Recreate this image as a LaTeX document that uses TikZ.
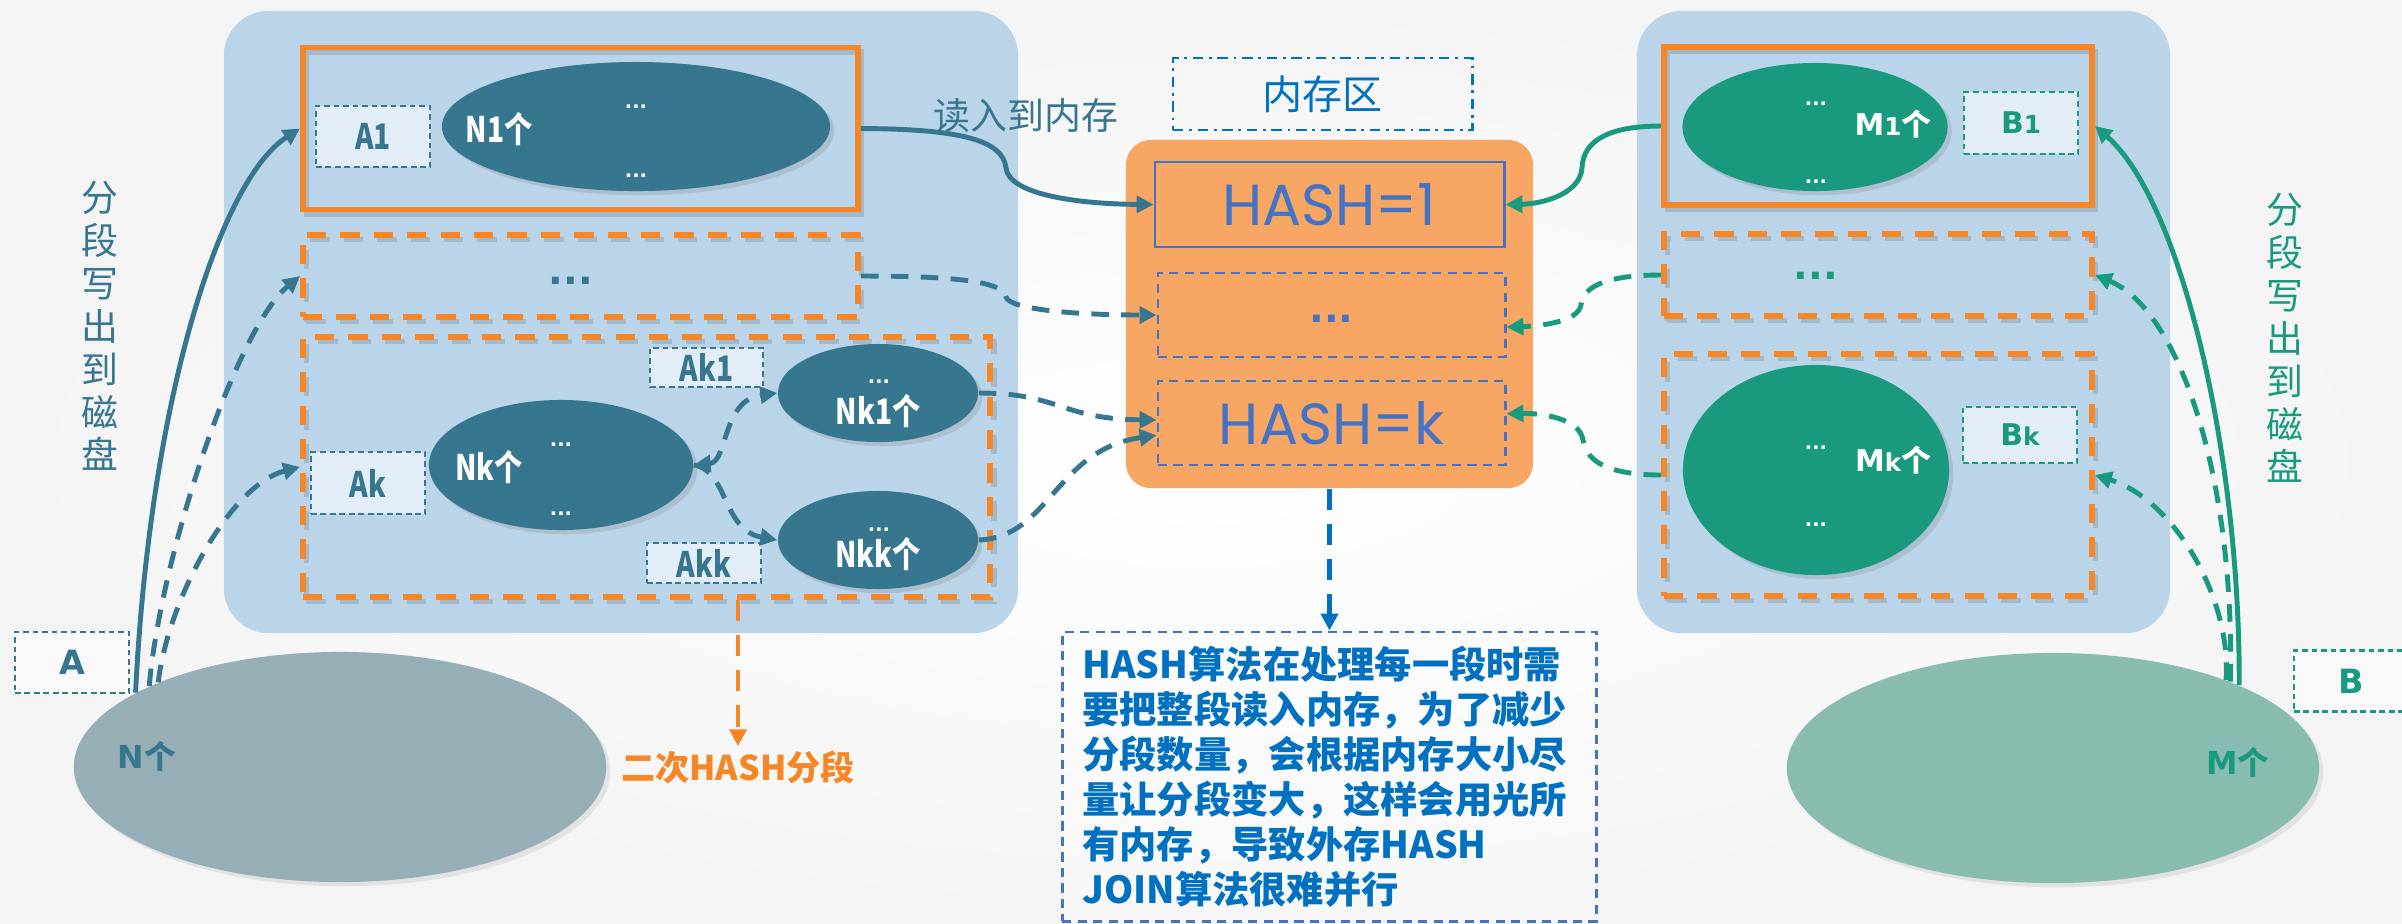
\documentclass[tikz,border=0pt]{standalone}
\usepackage{fontspec}
\setmainfont{Noto Sans CJK SC}
\newfontfamily\hashfont{Poppins}
\newfontfamily\dvfont{DejaVu Sans}
\newfontfamily\condfont[FakeStretch=0.8]{Noto Sans CJK SC}
\usetikzlibrary{arrows.meta,shapes.geometric,shadows}
\definecolor{bg}{RGB}{244,244,244}
\definecolor{panelblue}{RGB}{186,213,234}
\definecolor{tealD}{RGB}{55,118,143}
\definecolor{greenD}{RGB}{25,154,127}
\definecolor{grayN}{RGB}{150,174,182}
\definecolor{greenM}{RGB}{137,188,176}
\definecolor{orangeL}{RGB}{246,134,38}
\definecolor{orangeF}{RGB}{247,167,99}
\definecolor{hashblue}{RGB}{68,114,196}
\definecolor{memblue}{RGB}{0,112,192}
\definecolor{lblfill}{RGB}{226,237,247}
\definecolor{whitebox}{RGB}{249,249,249}
\tikzset{
  panel/.style={fill=panelblue, rounded corners=0.45cm, inner sep=0pt},
  oshadow/.style={preaction={draw=black!60, draw opacity=0.25, transform canvas={xshift=1pt, yshift=-1.3pt}}},
  obox/.style={draw=orangeL, line width=1.6pt, inner sep=0pt, oshadow},
  odash/.style={obox, dash pattern=on 5.5pt off 4pt},
  lbl/.style={line width=0.6pt, dash pattern=on 1.6pt off 1.1pt, inner sep=0pt},
  lblT/.style={lbl, draw=tealD, fill=lblfill, text=tealD, font=\condfont\bfseries\fontsize{10}{10}\selectfont},
  lblG/.style={lbl, draw=greenD, fill=lblfill, text=greenD, font=\dvfont\bfseries\fontsize{8.5}{9}\selectfont},
  ellT/.style={ellipse, fill=tealD, inner sep=0pt, drop shadow={opacity=0.25, shadow xshift=1.2pt, shadow yshift=-1.2pt}},
  ellG/.style={ellipse, fill=greenD, inner sep=0pt, drop shadow={opacity=0.25, shadow xshift=1.2pt, shadow yshift=-1.2pt}},
  txtW/.style={text=white, inner sep=0pt, font=\condfont\bfseries\fontsize{10}{10}\selectfont},
  txtWG/.style={text=white, inner sep=0pt, font=\bfseries\fontsize{8.5}{9}\selectfont},
  dotsW/.style={text=white, inner sep=0pt, font=\dvfont\bfseries\fontsize{5.5}{6}\selectfont},
  bigdots/.style={inner sep=0pt, font=\dvfont\bfseries\fontsize{11}{11}\selectfont},
  conT/.style={draw=tealD, line width=1.4pt, ->},
  conTd/.style={conT, dash pattern=on 5pt off 3.5pt},
  conG/.style={draw=greenD, line width=1.4pt, ->},
  conGd/.style={conG, dash pattern=on 5pt off 3.5pt},
  hbox/.style={draw=hashblue, line width=0.8pt, inner sep=0pt, text=hashblue, font=\hashfont\fontsize{16.5}{17}\selectfont},
  hdash/.style={hbox, dash pattern=on 2.6pt off 1.8pt},
  vtext/.style={align=center, inner sep=0pt, font=\fontsize{10.5}{12.2}\selectfont}
}
\begin{document}
\begin{tikzpicture}[x=0.01cm,y=-0.01cm,>={Triangle[length=4.8pt,width=4.8pt]}]
\useasboundingbox (0,0) rectangle (2402,923);
\shade[inner color=white, outer color=bg] (0,0) rectangle (2402,923);

% ---------- panels ----------
\node[panel, minimum width=7.94cm, minimum height=6.22cm] (PL) at (621,322) {};
\node[panel, minimum width=5.33cm, minimum height=6.22cm] (PR) at (1903.5,322) {};

% ---------- left side ----------
\node[obox, minimum width=5.55cm, minimum height=1.62cm] (L1) at (580.5,128.5) {};
\node[odash, minimum width=5.55cm, minimum height=0.82cm] (L2) at (580.5,276) {};
\node[odash, minimum width=6.87cm, minimum height=2.60cm] (L3) at (646.5,467) {};

\node[lblT, minimum width=1.14cm, minimum height=0.61cm] (A1) at (373,136.5) {A1};
\node[ellT, minimum width=3.88cm, minimum height=1.29cm] (N1) at (636,126.5) {};
\node[txtW] (N1t) at (499,129) {N1个};
\node[dotsW, anchor=base] (N1d1) at (636,108) {...};
\node[dotsW, anchor=base] (N1d2) at (636,177) {...};

\node[bigdots, text=tealD, anchor=base] (L2d) at (571,284) {...};

\node[lblT, minimum width=1.14cm, minimum height=0.62cm] (Ak) at (368,483) {Ak};
\node[ellT, minimum width=2.64cm, minimum height=1.30cm] (Nk) at (561,465) {};
\node[txtW] (Nkt) at (489,467) {Nk个};
\node[dotsW, anchor=base] (Nkd1) at (561,446) {...};
\node[dotsW, anchor=base] (Nkd2) at (561,515) {...};

\node[lblT, minimum width=1.13cm, minimum height=0.39cm] (Ak1) at (706.5,367.5) {Ak1};
\node[ellT, minimum width=2.00cm, minimum height=0.98cm] (Nk1) at (878,393) {};
\node[txtW] (Nk1t) at (878,411) {Nk1个};
\node[dotsW, anchor=base] (Nk1d) at (879,383) {...};

\node[lblT, minimum width=1.14cm, minimum height=0.40cm] (Akk) at (704,563) {Akk};
\node[ellT, minimum width=2.00cm, minimum height=0.98cm] (Nkk) at (878,540) {};
\node[txtW] (Nkkt) at (878,554) {Nkk个};
\node[dotsW, anchor=base] (Nkkd) at (879,531) {...};

\node[lbl, draw=tealD, fill=whitebox, text=tealD, minimum width=1.14cm, minimum height=0.61cm, font=\dvfont\bfseries\fontsize{9.5}{10}\selectfont] (A) at (72,662.5) {A};
\node[ellipse, fill=grayN, inner sep=0pt, minimum width=5.32cm, minimum height=2.30cm, drop shadow={opacity=0.15, shadow xshift=1.2pt, shadow yshift=-1.2pt}] (N) at (340,767) {};
\node[text=tealD, inner sep=0pt, font=\bfseries\fontsize{9}{9}\selectfont] (Nt) at (147,756) {{\dvfont N}个};

\node[vtext, text=tealD] (VL) at (100,326) {分\\段\\写\\出\\到\\磁\\盘};

\node[text=orangeL, inner sep=1pt, font=\bfseries\fontsize{9.7}{10}\selectfont] (Q) at (738,767) {二次HASH分段};

% ---------- memory ----------
\node[draw=memblue, line width=0.8pt, dash pattern=on 3pt off 1.6pt on 0.8pt off 1.6pt, text=memblue, minimum width=2.99cm, minimum height=0.72cm, inner sep=0pt, font=\fontsize{11.4}{12}\selectfont] (ML) at (1322.5,94) {内存区};
\node[fill=orangeF, rounded corners=0.25cm, minimum width=4.07cm, minimum height=3.48cm, inner sep=0pt] (MB) at (1329.5,314) {};
\node[hbox, minimum width=3.49cm, minimum height=0.85cm] (H1) at (1329.5,204.5) {HASH=1};
\node[hdash, minimum width=3.47cm, minimum height=0.84cm] (Hd) at (1331.5,315) {};
\node[bigdots, text=hashblue, anchor=base] (Hdd) at (1331.5,322) {...};
\node[hdash, minimum width=3.47cm, minimum height=0.84cm] (Hk) at (1331.5,423) {HASH=k};
\node[text=tealD, inner sep=0pt, font=\fontsize{10.5}{11}\selectfont] (RD) at (1026,116) {读入到内存};

\node[draw=hashblue, line width=0.8pt, dash pattern=on 2.6pt off 1.8pt, fill=white, fill opacity=0.35, text opacity=1, text=memblue, minimum width=5.34cm, minimum height=2.89cm, inner xsep=0.2cm, text width=4.94cm, align=left, font=\bfseries\fontsize{10.6}{12.8}\selectfont] (TB) at (1329.5,776.5)
{HASH算法在处理每一段时需\\要把整段读入内存，为了减少\\分段数量，会根据内存大小尽\\量让分段变大，这样会用光所\\有内存，导致外存HASH\\JOIN算法很难并行};

% ---------- right side ----------
\node[obox, minimum width=4.28cm, minimum height=1.58cm] (R1) at (1878,126) {};
\node[odash, minimum width=4.28cm, minimum height=0.82cm] (R2) at (1878,275) {};
\node[odash, minimum width=4.28cm, minimum height=2.42cm] (R3) at (1878,475) {};

\node[ellG, minimum width=2.65cm, minimum height=1.28cm] (M1) at (1815,127) {};
\node[txtWG] (M1t) at (1893,124) {{\dvfont M{\fontsize{7}{7}\selectfont 1}}个};
\node[dotsW, anchor=base] (M1d1) at (1816,105) {...};
\node[dotsW, anchor=base] (M1d2) at (1816,183) {...};
\node[lblG, minimum width=1.14cm, minimum height=0.62cm] (B1) at (2021,123) {B{\fontsize{7}{7}\selectfont 1}};

\node[bigdots, text=greenD, anchor=base] (R2d) at (1816,279) {...};

\node[ellG, minimum width=2.66cm, minimum height=2.10cm] (Mk) at (1816,470) {};
\node[txtWG] (Mkt) at (1893,460) {{\dvfont M{\fontsize{7}{7}\selectfont k}}个};
\node[dotsW, anchor=base] (Mkd1) at (1816,449) {...};
\node[dotsW, anchor=base] (Mkd2) at (1816,526) {...};
\node[lblG, minimum width=1.14cm, minimum height=0.56cm] (Bk) at (2020,435) {B{\fontsize{7}{7}\selectfont k}};

\node[lbl, draw=greenD, fill=whitebox, text=greenD, minimum width=1.14cm, minimum height=0.61cm, font=\dvfont\bfseries\fontsize{9.5}{10}\selectfont] (B) at (2351,681) {B};
\node[ellipse, fill=greenM, inner sep=0pt, minimum width=5.32cm, minimum height=2.30cm, drop shadow={opacity=0.15, shadow xshift=1.2pt, shadow yshift=-1.2pt}] (M) at (2053,768) {};
\node[text=greenD, inner sep=0pt, font=\bfseries\fontsize{9}{9}\selectfont] (Mt) at (2238,762) {{\dvfont M}个};

\node[vtext, text=greenD] (VR) at (2285,338) {分\\段\\写\\出\\到\\磁\\盘};

% ---------- connectors ----------
\draw[conT] (N.160) .. controls (150,400) and (220,180) .. (L1.west);
\draw[conTd] (N.157) .. controls (160,560) and (235,330) .. (L2.west);
\draw[conTd] (N.155) .. controls (168,600) and (230,485) .. (L3.west);

\draw[conG] (M.24) .. controls (2240,450) and (2180,200) .. (R1.east);
\draw[conGd] (M.26) .. controls (2235,480) and (2180,310) .. (R2.east);
\draw[conGd] (M.27) .. controls (2232,600) and (2175,500) .. (R3.east);

\draw[conTd, <->] (Nk.east) .. controls (728,462) and (722,400) .. (Nk1.west);
\draw[conTd] (Nk.east) .. controls (728,470) and (722,530) .. (Nkk.west);

\draw[conT] (L1.east) .. controls (960,129) and (1003,140) .. (1006,168) .. controls (1009,195) and (1080,204) .. (H1.west);
\draw[conTd] (L2.east) .. controls (960,276) and (1003,282) .. (1006,297) .. controls (1010,310) and (1080,315) .. (Hd.west);
\draw[conTd] (Nk1.east) .. controls (1060,393) and (1060,419) .. (Hk.179);
\draw[conTd] (Nkk.east) .. controls (1050,537) and (1055,450) .. (Hk.184);

\draw[conG] (R1.west) .. controls (1610,126) and (1583,140) .. (1582,168) .. controls (1580,195) and (1540,204) .. (H1.east);
\draw[conGd] (R2.west) .. controls (1610,275) and (1583,285) .. (1581,305) .. controls (1578,322) and (1540,326) .. (Hd.356);
\draw[conGd] (R3.west) .. controls (1610,475) and (1586,462) .. (1583,440) .. controls (1580,418) and (1540,413) .. (Hk.3);

\draw[draw=memblue, line width=1.5pt, dash pattern=on 6pt off 4pt, ->] (MB.south) -- (TB.north);
\draw[draw=orangeL, line width=1.4pt, dash pattern=on 6pt off 4pt, ->] (Q.north |- L3.south) -- (Q.north);
\end{tikzpicture}
\end{document}
